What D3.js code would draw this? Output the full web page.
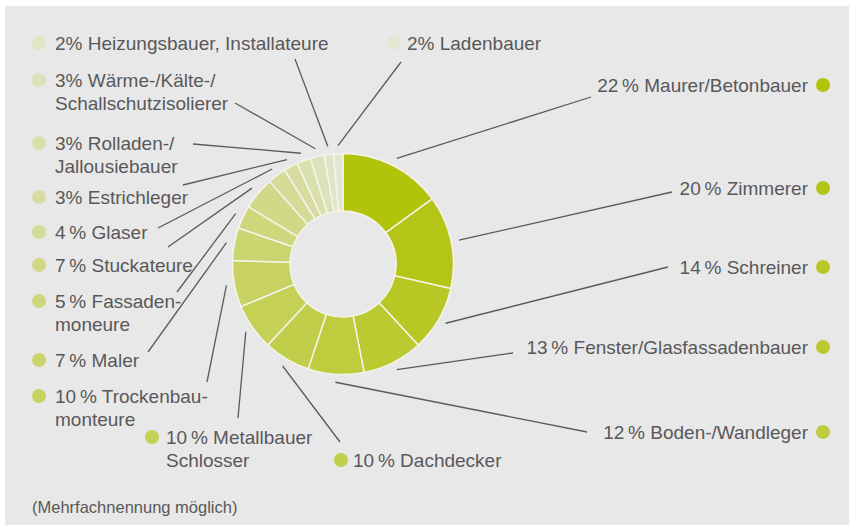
<!DOCTYPE html>
<html lang="de">
<head>
<meta charset="utf-8">
<script src="https://cdn.jsdelivr.net/npm/d3@7"></script>
<style>
  html, body { margin: 0; padding: 0; background: #ffffff; }
  svg { display: block; }
  text { font-family: "Liberation Sans", Arial, Helvetica, sans-serif; fill: #58585a; }
</style>
</head>
<body>
<svg id="chart" width="849" height="525"></svg>
<script>
// Trades (clockwise from 12 o'clock); "\n" marks a line break in the label
const categories = [
  "Maurer/Betonbauer",
  "Zimmerer",
  "Schreiner",
  "Fenster/Glasfassadenbauer",
  "Boden-/Wandleger",
  "Dachdecker",
  "Metallbauer\nSchlosser",
  "Trockenbau-\nmonteure",
  "Maler",
  "Fassaden-\nmoneure",
  "Stuckateure",
  "Glaser",
  "Estrichleger",
  "Rolladen-/\nJallousiebauer",
  "Wärme-/Kälte-/\nSchallschutzisolierer",
  "Heizungsbauer, Installateure",
  "Ladenbauer"
];
// Share of mentions in percent
const values = [22, 20, 14, 13, 12, 10, 10, 10, 7, 5, 7, 4, 3, 3, 3, 2, 2];
const footnote = "(Mehrfachnennung möglich)";

// Label placement: side, text anchor point, leader line end
const labelLayout = [
  { side: "r", x: 808, y: 85,  lx: 591, ly: 97,  thin: true },
  { side: "r", x: 808, y: 188, lx: 672, ly: 192, thin: true },
  { side: "r", x: 808, y: 267, lx: 668, ly: 267, thin: true },
  { side: "r", x: 808, y: 347, lx: 513, ly: 353, thin: true },
  { side: "r", x: 808, y: 432, lx: 587, ly: 432, thin: true },
  { side: "l", x: 353, y: 460, bx: 341, lx: 340, ly: 442, thin: true },
  { side: "l", x: 166, y: 437, bx: 152, lx: 238, ly: 418, thin: true },
  { side: "l", x: 55,  y: 396, bx: 39,  lx: 207, ly: 382, thin: true },
  { side: "l", x: 55,  y: 360, bx: 39,  lx: 148, ly: 352, thin: true },
  { side: "l", x: 55,  y: 301, bx: 39,  lx: 177, ly: 292, thin: true },
  { side: "l", x: 55,  y: 265, bx: 39,  lx: 168, ly: 247, thin: true },
  { side: "l", x: 55,  y: 232, bx: 39,  lx: 158, ly: 228, thin: true },
  { side: "l", x: 55,  y: 197, bx: 39,  lx: 183, ly: 185, thin: false },
  { side: "l", x: 55,  y: 143, bx: 39,  lx: 193, ly: 144, thin: false },
  { side: "l", x: 55,  y: 80,  bx: 39,  lx: 235, ly: 103, thin: false },
  { side: "l", x: 55,  y: 43,  bx: 39,  lx: 295, ly: 59,  thin: false },
  { side: "l", x: 407, y: 43,  bx: 394, lx: 401, ly: 62,  thin: false }
];

const W = 849, H = 525;
const cx = 343, cy = 264, outerR = 110.5, innerR = 53;
const fontSize = 19, lineGap = 23;

const svg = d3.select("#chart");

// panel background
svg.append("rect")
  .attr("x", 5).attr("y", 6)
  .attr("width", W - 5).attr("height", H - 6)
  .attr("fill", "#e8e8e8");

const data = categories.map((c, i) => ({ name: c, value: values[i], i }));

const color = d3.scaleLinear()
  .domain([0, data.length - 1])
  .range(["#b1c30b", "#e4e6d3"])
  .interpolate(d3.interpolateRgb);

const pie = d3.pie().sort(null).value(d => d.value);
const arcs = pie(data);

const arc = d3.arc().innerRadius(innerR).outerRadius(outerR);
const lineArc = d3.arc().innerRadius(outerR + 8).outerRadius(outerR + 8);

const g = svg.append("g").attr("transform", `translate(${cx},${cy})`);

g.selectAll("path.slice")
  .data(arcs)
  .join("path")
  .attr("class", "slice")
  .attr("d", arc)
  .attr("fill", d => color(d.data.i))
  .attr("stroke", "#f4f4ec")
  .attr("stroke-width", 1.5);

// leader lines
svg.append("g")
  .selectAll("line")
  .data(arcs)
  .join("line")
  .attr("x1", d => cx + lineArc.centroid(d)[0])
  .attr("y1", d => cy + lineArc.centroid(d)[1])
  .attr("x2", d => labelLayout[d.data.i].lx)
  .attr("y2", d => labelLayout[d.data.i].ly)
  .attr("stroke", "#5a5a5a")
  .attr("stroke-width", 1.3);

// labels with bullets
const labels = svg.append("g");
data.forEach((d, i) => {
  const L = labelLayout[i];
  const sep = L.thin ? "\u2009" : "";
  const lines = d.name.split("\n");
  lines[0] = `${d.value}${sep}% ${lines[0]}`;
  const right = L.side === "r";
  const t = labels.append("text")
    .attr("x", L.x)
    .attr("y", L.y)
    .attr("font-size", fontSize)
    .attr("text-anchor", right ? "end" : "start");
  lines.forEach((ln, k) => {
    t.append("tspan")
      .attr("x", L.x)
      .attr("y", L.y + k * lineGap)
      .attr("dy", "0.35em")
      .text(ln);
  });
  labels.append("circle")
    .attr("cx", right ? L.x + 15 : L.bx)
    .attr("cy", L.y)
    .attr("r", 7)
    .attr("fill", color(i));
});

svg.append("text")
  .attr("x", 32)
  .attr("y", 507)
  .attr("dy", "0.35em")
  .attr("font-size", 16.5)
  .text(footnote);
</script>
</body>
</html>
